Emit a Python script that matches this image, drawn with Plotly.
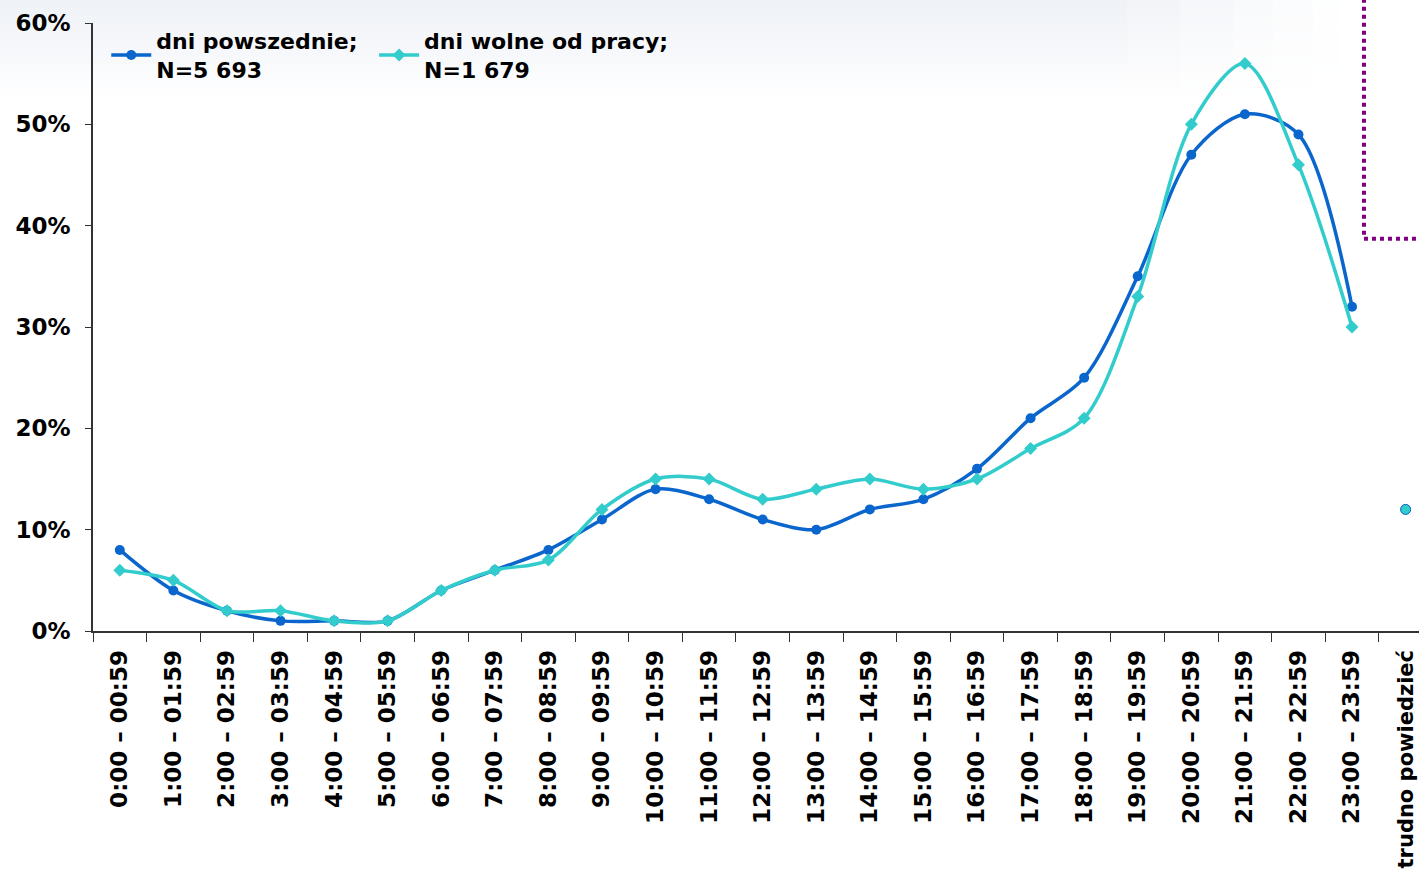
import plotly.graph_objects as go

# Hour bands of the day plus the "hard to say" answer
hours = [
    "0:00 – 00:59", "1:00 – 01:59", "2:00 – 02:59", "3:00 – 03:59",
    "4:00 – 04:59", "5:00 – 05:59", "6:00 – 06:59", "7:00 – 07:59",
    "8:00 – 08:59", "9:00 – 09:59", "10:00 – 10:59", "11:00 – 11:59",
    "12:00 – 12:59", "13:00 – 13:59", "14:00 – 14:59", "15:00 – 15:59",
    "16:00 – 16:59", "17:00 – 17:59", "18:00 – 18:59", "19:00 – 19:59",
    "20:00 – 20:59", "21:00 – 21:59", "22:00 – 22:59", "23:00 – 23:59",
]
hard_to_say = "trudno powiedzieć"

# Share of respondents (%) per hour band
weekdays = [8, 4, 2, 1, 1, 1, 4, 6, 8, 11, 14, 13, 11, 10, 12, 13, 16, 21, 25, 35, 47, 51, 49, 32]
days_off = [6, 5, 2, 2, 1, 1, 4, 6, 7, 12, 15, 15, 13, 14, 15, 14, 15, 18, 21, 33, 50, 56, 46, 30]
weekdays_hard = 12
days_off_hard = 12

categories = hours + [hard_to_say]
# the last, longest label is set a little smaller so it fits above the page edge
x_tick_text = hours + [f'<span style="font-size:21px">{hard_to_say}</span>']
y_ticks = [0, 10, 20, 30, 40, 50, 60]
y_tick_text = [f"{v}%" for v in y_ticks]

BLUE = "#0A66CC"
TEAL = "#33CCCC"
FONT = "DejaVu Sans"
TICK_SIZE = 23

fig = go.Figure()

fig.add_trace(go.Scatter(
    x=hours, y=weekdays, name="dni powszednie;<br>N=5 693", legend="legend",
    mode="lines+markers", line=dict(color=BLUE, width=3.5, shape="spline", smoothing=0.9),
    marker=dict(symbol="circle", size=10, color=BLUE),
))
fig.add_trace(go.Scatter(
    x=hours, y=days_off, name="dni wolne od pracy;<br>N=1 679", legend="legend2",
    mode="lines+markers", line=dict(color=TEAL, width=3.5, shape="spline", smoothing=0.9),
    marker=dict(symbol="diamond", size=10, color=TEAL),
))
fig.add_trace(go.Scatter(
    x=[hard_to_say], y=[weekdays_hard], mode="markers", showlegend=False,
    marker=dict(symbol="circle", size=10, color=BLUE),
))
fig.add_trace(go.Scatter(
    x=[hard_to_say], y=[days_off_hard], mode="markers", showlegend=False,
    marker=dict(symbol="circle", size=10, color=TEAL, line=dict(color=BLUE, width=1)),
))

# Soft bluish haze along the top edge of the slide background
shapes = []
n_rows = 12
col_edges = [-0.08, 0.78, 0.82, 0.86, 0.89, 0.92, 0.94]
col_fade = [1.0, 0.8, 0.6, 0.4, 0.25, 0.1]
for i in range(n_rows):
    y_top = 1.04 - i * 0.0135
    y_bot = y_top - 0.0135
    row_op = 0.6 * (1 - i / n_rows)
    for j in range(len(col_fade)):
        shapes.append(dict(
            type="rect", xref="paper", yref="paper", layer="below",
            x0=col_edges[j], x1=col_edges[j + 1], y0=y_bot, y1=y_top,
            fillcolor="#e4e9f1", opacity=row_op * col_fade[j], line=dict(width=0),
        ))

# Purple dotted frame in the upper right corner
shapes.append(dict(type="line", xref="paper", yref="paper",
                   x0=0.9585, x1=0.9585, y0=1.04, y1=0.645,
                   line=dict(color="#800080", width=4, dash="dot")))
shapes.append(dict(type="line", xref="paper", yref="paper",
                   x0=0.9585, x1=1.0, y0=0.645, y1=0.645,
                   line=dict(color="#800080", width=4, dash="dot")))

legend_style = dict(
    orientation="h", y=1.005, xanchor="left", yanchor="top",
    font=dict(family=FONT, size=22, color="black", weight="bold"),
    bgcolor="rgba(0,0,0,0)", itemwidth=40,
)

fig.update_layout(
    width=1419, height=882,
    margin=dict(l=93, r=0, t=23, b=251),
    paper_bgcolor="white", plot_bgcolor="rgba(0,0,0,0)",
    font=dict(family=FONT, size=TICK_SIZE, color="black"),
    shapes=shapes,
    legend=dict(x=0.01, **legend_style),
    legend2=dict(x=0.212, **legend_style),
    showlegend=True,
)

fig.update_xaxes(
    type="category", categoryorder="array", categoryarray=categories,
    tickvals=categories, ticktext=x_tick_text,
    range=[-0.5, 24.25], tickangle=-90, tickson="boundaries",
    ticks="outside", ticklen=9, tickcolor="#333", tickwidth=1,
    ticklabelstandoff=8, automargin=False,
    showline=True, linecolor="#333", linewidth=1.5, showgrid=False, zeroline=False,
    tickfont=dict(family=FONT, size=TICK_SIZE, color="black", weight="bold"),
)
fig.update_yaxes(
    range=[0, 60], tickvals=y_ticks, ticktext=y_tick_text,
    ticks="outside", ticklen=6, tickcolor="#333",
    ticklabelstandoff=10, automargin=False,
    showline=True, linecolor="#333", linewidth=1.5, showgrid=False, zeroline=False,
    tickfont=dict(family=FONT, size=TICK_SIZE, color="black", weight="bold"),
)

fig.write_html("out.html")
